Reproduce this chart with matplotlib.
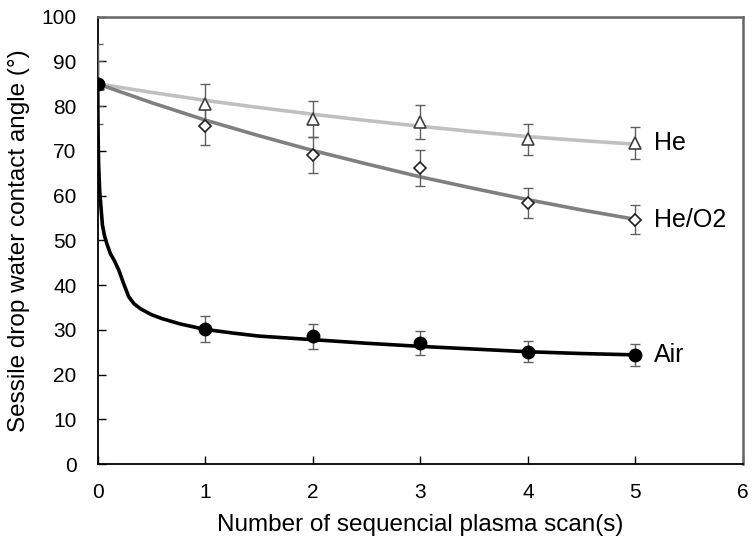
import numpy as np
import matplotlib.pyplot as plt
import matplotlib

matplotlib.rcParams['font.family'] = ['Liberation Sans', 'DejaVu Sans']

# measured points (mean +/- error)
scans = [0, 1, 2, 3, 4, 5]

air = [85.0, 30.2, 28.6, 27.0, 25.1, 24.4]
air_err = [0.0, 3.0, 2.8, 2.7, 2.4, 2.4]

heo2 = [85.0, 75.6, 69.0, 66.1, 58.3, 54.6]
heo2_err = [5.0, 4.2, 4.0, 4.0, 3.4, 3.2]

he = [85.0, 80.5, 77.2, 76.4, 72.6, 71.7]
he_err = [9.0, 4.4, 4.0, 3.8, 3.5, 3.6]

# fitted trend curves
air_fit_x = [0, 0.002, 0.005, 0.01, 0.02, 0.03, 0.045, 0.065, 0.09, 0.12, 0.16, 0.2, 0.24, 0.29, 0.34,
             0.4, 0.5, 0.6, 0.77, 1.0, 1.25, 1.5, 2.0, 2.5, 3.0, 3.5, 4.0, 4.5, 5.0]
air_fit_y = [85.0, 80.0, 74.0, 67.0, 61.0, 58.0, 53.5, 51.0, 49.0, 47.0, 45.3, 43.2, 40.5, 37.4, 35.8,
             34.7, 33.4, 32.5, 31.3, 30.1, 29.3, 28.6, 27.8, 27.0, 26.3, 25.7, 25.1, 24.7, 24.4]

heo2_fit_x = [0, 0.5, 1, 1.5, 2, 2.5, 3, 3.5, 4, 4.5, 5]
heo2_fit_y = [85.0, 80.8, 76.9, 73.4, 70.1, 67.1, 64.2, 61.6, 59.1, 56.8, 54.7]

he_fit_x = [0, 0.5, 1, 1.5, 2, 2.5, 3, 3.5, 4, 4.5, 5]
he_fit_y = [85.0, 83.1, 81.3, 79.7, 78.2, 76.8, 75.5, 74.3, 73.2, 72.3, 71.5]

series_labels = ['He', 'He/O2', 'Air']

fig = plt.figure(figsize=(7.52, 5.41), dpi=100)
ax = fig.add_axes([0.1297, 0.1423, 0.8583, 0.8268])

# curves
ax.plot(he_fit_x, he_fit_y, color='#c0c0c0', lw=2.6, zorder=2)
ax.plot(heo2_fit_x, heo2_fit_y, color='#808080', lw=2.6, zorder=2)
ax.plot(air_fit_x, air_fit_y, color='black', lw=2.6, zorder=4.5)

# error bars + markers
eb_kw = dict(fmt='none', ecolor='#606060', elinewidth=1.0, capsize=3.6, capthick=1.0, zorder=4)
ax.errorbar(scans, he, yerr=he_err, **eb_kw)
ax.errorbar(scans, heo2, yerr=heo2_err, **eb_kw)
ax.errorbar(scans, air, yerr=air_err, **eb_kw)

ax.plot(scans, he, ls='none', marker='^', ms=9, mfc='white', mec='#404040', mew=1.2, zorder=5)
ax.plot(scans, heo2, ls='none', marker='D', ms=6.5, mfc='white', mec='#202020', mew=1.2, zorder=5)
ax.plot(scans, air, ls='none', marker='o', ms=9, mfc='black', mec='black', zorder=6)

# series labels at the right end
ax.text(5.17, he[-1], series_labels[0], fontsize=18, va='center', ha='left')
ax.text(5.17, heo2[-1], series_labels[1], fontsize=18, va='center', ha='left')
ax.text(5.17, air[-1], series_labels[2], fontsize=18, va='center', ha='left')

ax.set_xlim(0, 6)
ax.set_ylim(0, 100)
ax.set_xticks(range(0, 7))
ax.set_yticks(range(0, 101, 10))
ax.tick_params(direction='in', length=6, width=1, labelsize=15)
ax.tick_params(axis='x', pad=14)
ax.tick_params(axis='y', pad=15)

for s in ['left', 'bottom']:
    ax.spines[s].set_color('black')
    ax.spines[s].set_linewidth(1.3)
for s in ['top', 'right']:
    ax.spines[s].set_color('#666666')
    ax.spines[s].set_linewidth(1.8)

ax.set_xlabel('Number of sequencial plasma scan(s)', fontsize=17.5, labelpad=8)
ax.set_ylabel('Sessile drop water contact angle (°)', fontsize=17.5, labelpad=8)

plt.savefig('out.png', dpi=100)
